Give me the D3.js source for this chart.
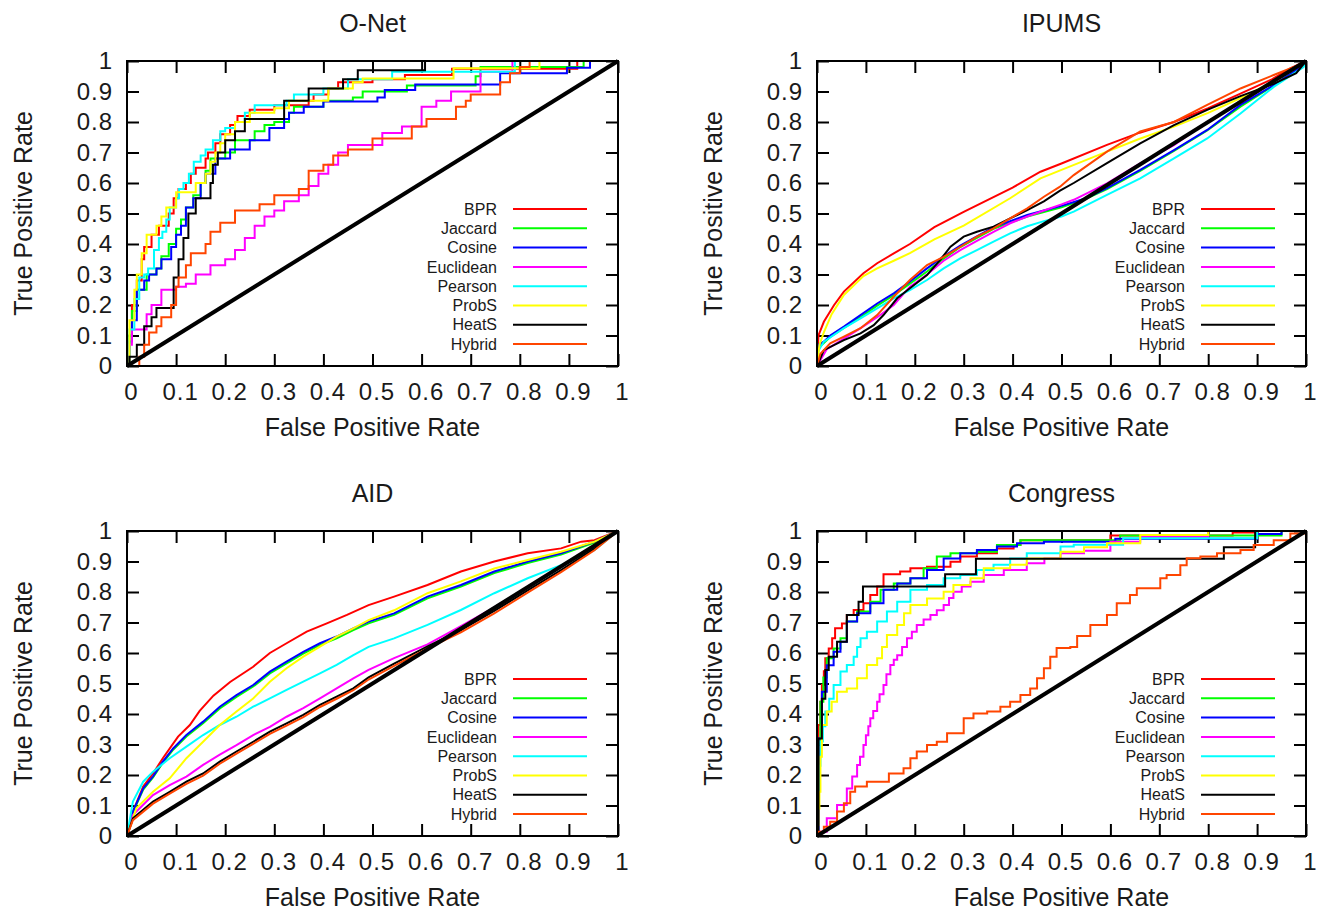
<!DOCTYPE html>
<html>
<head>
<meta charset="utf-8">
<script src="https://d3js.org/d3.v7.min.js"></script>
<style>
body { margin: 0; background: #fff; }
</style>
</head>
<body>
<div id="chart"></div>
<script>
// 1. data
var seriesNames  = ["BPR", "Jaccard", "Cosine", "Euclidean", "Pearson", "ProbS", "HeatS", "Hybrid"];
var seriesColors = ["#ff0000", "#00ff00", "#0000ff", "#ff00ff", "#00ffff", "#ffff00", "#000000", "#ff4500"];
var tickValues = [0, 0.1, 0.2, 0.3, 0.4, 0.5, 0.6, 0.7, 0.8, 0.9, 1];
var tickLabels = ["0", "0.1", "0.2", "0.3", "0.4", "0.5", "0.6", "0.7", "0.8", "0.9", "1"];
var panelTitles = ["O-Net", "IPUMS", "AID", "Congress"];
var xTitle = "False Positive Rate";
var yTitle = "True Positive Rate";

// O-Net  [fpr, tpr]
var onet_BPR = [[0,0],[0.005,0.1],[0.01,0.2],[0.02,0.28],[0.03,0.35],[0.035,0.39],[0.05,0.43],[0.065,0.46],[0.085,0.5],[0.095,0.55],[0.105,0.58],[0.12,0.6],[0.13,0.63],[0.14,0.65],[0.16,0.68],[0.165,0.7],[0.18,0.73],[0.19,0.76],[0.21,0.79],[0.22,0.8],[0.225,0.82],[0.25,0.84],[0.3,0.855],[0.37,0.87],[0.38,0.89],[0.41,0.91],[0.43,0.93],[0.5,0.94],[0.566,0.954],[0.662,0.975],[0.917,1],[1,1]];
var onet_Jaccard = [[0,0],[0.005,0.1],[0.01,0.18],[0.02,0.25],[0.04,0.3],[0.06,0.32],[0.07,0.36],[0.085,0.4],[0.1,0.45],[0.11,0.48],[0.12,0.52],[0.135,0.56],[0.15,0.6],[0.16,0.64],[0.17,0.68],[0.2,0.7],[0.22,0.74],[0.26,0.77],[0.28,0.79],[0.3,0.8],[0.33,0.83],[0.34,0.85],[0.4,0.87],[0.46,0.88],[0.48,0.9],[0.57,0.92],[0.71,0.95],[0.72,0.98],[0.93,1],[1,1]];
var onet_Cosine = [[0,0],[0.005,0.08],[0.01,0.15],[0.02,0.25],[0.035,0.28],[0.045,0.3],[0.06,0.32],[0.07,0.35],[0.09,0.39],[0.1,0.43],[0.11,0.46],[0.12,0.52],[0.135,0.55],[0.15,0.6],[0.16,0.63],[0.18,0.68],[0.21,0.71],[0.25,0.74],[0.29,0.78],[0.32,0.81],[0.33,0.83],[0.36,0.85],[0.4,0.867],[0.51,0.88],[0.525,0.905],[0.587,0.923],[0.76,0.96],[0.896,0.978],[0.943,1],[1,1]];
var onet_Euclidean = [[0,0],[0.005,0.07],[0.01,0.12],[0.04,0.17],[0.05,0.2],[0.07,0.25],[0.1,0.26],[0.12,0.27],[0.14,0.3],[0.17,0.33],[0.2,0.35],[0.22,0.38],[0.24,0.42],[0.26,0.46],[0.28,0.49],[0.3,0.51],[0.32,0.54],[0.35,0.56],[0.37,0.59],[0.39,0.63],[0.41,0.66],[0.43,0.7],[0.45,0.725],[0.52,0.764],[0.56,0.785],[0.6,0.85],[0.63,0.87],[0.66,0.9],[0.72,0.965],[0.785,1],[1,1]];
var onet_Pearson = [[0,0],[0.005,0.12],[0.015,0.22],[0.025,0.29],[0.035,0.3],[0.043,0.32],[0.055,0.38],[0.065,0.42],[0.072,0.44],[0.08,0.48],[0.087,0.52],[0.1,0.55],[0.106,0.58],[0.115,0.6],[0.126,0.63],[0.136,0.67],[0.15,0.69],[0.16,0.71],[0.175,0.74],[0.19,0.77],[0.2,0.78],[0.22,0.8],[0.24,0.83],[0.26,0.855],[0.325,0.87],[0.34,0.89],[0.4,0.91],[0.45,0.94],[0.54,0.965],[0.79,1],[1,1]];
var onet_ProbS = [[0,0],[0.005,0.15],[0.015,0.25],[0.02,0.3],[0.03,0.37],[0.04,0.43],[0.06,0.46],[0.07,0.49],[0.08,0.52],[0.1,0.57],[0.14,0.6],[0.16,0.63],[0.17,0.67],[0.18,0.7],[0.19,0.73],[0.2,0.76],[0.22,0.8],[0.25,0.83],[0.3,0.845],[0.33,0.87],[0.41,0.91],[0.46,0.93],[0.48,0.943],[0.665,0.976],[0.84,1],[1,1]];
var onet_HeatS = [[0,0],[0.005,0.03],[0.02,0.07],[0.035,0.13],[0.05,0.16],[0.06,0.19],[0.095,0.29],[0.105,0.35],[0.115,0.42],[0.125,0.5],[0.14,0.55],[0.17,0.6],[0.175,0.66],[0.185,0.7],[0.2,0.74],[0.22,0.77],[0.24,0.81],[0.32,0.87],[0.37,0.91],[0.44,0.94],[0.47,0.97],[0.607,1],[1,1]];
var onet_Hybrid = [[0,0],[0.02,0],[0.025,0.03],[0.035,0.07],[0.045,0.11],[0.06,0.13],[0.07,0.16],[0.09,0.2],[0.1,0.26],[0.105,0.29],[0.12,0.33],[0.13,0.37],[0.16,0.4],[0.17,0.44],[0.19,0.47],[0.22,0.51],[0.27,0.53],[0.3,0.56],[0.35,0.58],[0.37,0.64],[0.4,0.66],[0.42,0.69],[0.45,0.71],[0.5,0.746],[0.58,0.785],[0.61,0.81],[0.67,0.85],[0.69,0.87],[0.7,0.89],[0.76,0.93],[0.78,0.96],[0.8,0.98],[0.82,1],[1,1]];

// IPUMS
var ipums_BPR = [[0,0],[0.003,0.1],[0.014,0.145],[0.035,0.2],[0.055,0.244],[0.095,0.304],[0.123,0.337],[0.157,0.369],[0.19,0.4],[0.24,0.455],[0.3,0.505],[0.4,0.585],[0.457,0.637],[0.5,0.664],[0.593,0.725],[0.66,0.765],[0.73,0.8],[0.8,0.845],[0.866,0.893],[0.93,0.94],[0.968,0.976],[1,1]];
var ipums_Jaccard = [[0,0],[0.003,0.06],[0.014,0.075],[0.027,0.095],[0.055,0.125],[0.089,0.16],[0.123,0.198],[0.157,0.232],[0.19,0.27],[0.225,0.31],[0.259,0.352],[0.293,0.39],[0.327,0.42],[0.361,0.45],[0.395,0.47],[0.43,0.49],[0.464,0.505],[0.5,0.52],[0.55,0.548],[0.593,0.58],[0.661,0.64],[0.73,0.705],[0.798,0.772],[0.866,0.85],[0.934,0.92],[0.98,0.97],[1,1]];
var ipums_Cosine = [[0,0],[0.003,0.07],[0.014,0.08],[0.027,0.1],[0.055,0.129],[0.089,0.167],[0.123,0.205],[0.157,0.238],[0.19,0.277],[0.225,0.32],[0.259,0.36],[0.293,0.395],[0.327,0.425],[0.361,0.455],[0.395,0.475],[0.43,0.495],[0.464,0.51],[0.5,0.525],[0.55,0.55],[0.593,0.583],[0.661,0.643],[0.73,0.708],[0.798,0.774],[0.866,0.856],[0.934,0.921],[0.98,0.97],[1,1]];
var ipums_Euclidean = [[0,0],[0.02,0.055],[0.055,0.09],[0.09,0.125],[0.123,0.16],[0.157,0.2],[0.19,0.26],[0.225,0.3],[0.259,0.345],[0.293,0.38],[0.327,0.41],[0.361,0.44],[0.395,0.468],[0.43,0.49],[0.464,0.51],[0.5,0.53],[0.525,0.545],[0.593,0.599],[0.661,0.664],[0.73,0.724],[0.798,0.8],[0.866,0.867],[0.934,0.932],[1,1]];
var ipums_Pearson = [[0,0],[0.003,0.05],[0.014,0.08],[0.055,0.124],[0.089,0.156],[0.123,0.189],[0.157,0.222],[0.19,0.249],[0.225,0.282],[0.259,0.32],[0.293,0.353],[0.327,0.38],[0.361,0.408],[0.395,0.435],[0.43,0.458],[0.464,0.475],[0.5,0.49],[0.525,0.506],[0.593,0.561],[0.661,0.615],[0.73,0.681],[0.798,0.746],[0.866,0.828],[0.934,0.915],[0.995,0.98],[1,1]];
var ipums_ProbS = [[0,0],[0.005,0.07],[0.014,0.11],[0.03,0.17],[0.055,0.233],[0.095,0.295],[0.123,0.32],[0.157,0.345],[0.19,0.37],[0.24,0.415],[0.3,0.46],[0.395,0.55],[0.457,0.615],[0.5,0.643],[0.593,0.703],[0.66,0.745],[0.73,0.785],[0.8,0.83],[0.866,0.878],[0.93,0.93],[0.968,0.965],[1,1]];
var ipums_HeatS = [[0,0],[0.014,0.052],[0.055,0.085],[0.089,0.107],[0.116,0.134],[0.136,0.167],[0.164,0.222],[0.19,0.255],[0.225,0.298],[0.252,0.348],[0.273,0.391],[0.3,0.424],[0.327,0.44],[0.361,0.457],[0.395,0.484],[0.43,0.511],[0.464,0.54],[0.497,0.575],[0.525,0.6],[0.593,0.665],[0.661,0.73],[0.73,0.79],[0.798,0.84],[0.866,0.885],[0.934,0.925],[0.98,0.96],[1,1]];
var ipums_Hybrid = [[0,0],[0.007,0.04],[0.027,0.074],[0.055,0.096],[0.089,0.124],[0.123,0.167],[0.157,0.227],[0.19,0.282],[0.225,0.331],[0.259,0.358],[0.293,0.391],[0.327,0.424],[0.361,0.451],[0.395,0.484],[0.43,0.517],[0.464,0.555],[0.497,0.588],[0.525,0.626],[0.593,0.703],[0.661,0.769],[0.73,0.8],[0.798,0.856],[0.866,0.91],[0.934,0.954],[0.995,0.993],[1,1]];

// AID
var aid_BPR = [[0,0],[0.012,0.08],[0.033,0.162],[0.053,0.205],[0.073,0.255],[0.104,0.326],[0.128,0.364],[0.148,0.41],[0.176,0.46],[0.21,0.505],[0.257,0.555],[0.291,0.6],[0.325,0.632],[0.366,0.67],[0.407,0.697],[0.448,0.725],[0.492,0.757],[0.544,0.785],[0.612,0.823],[0.68,0.867],[0.748,0.9],[0.816,0.927],[0.884,0.943],[0.925,0.965],[0.952,0.97],[1,1]];
var aid_Jaccard = [[0,0],[0.012,0.078],[0.033,0.152],[0.053,0.192],[0.073,0.24],[0.094,0.283],[0.121,0.326],[0.155,0.37],[0.189,0.418],[0.223,0.456],[0.257,0.49],[0.291,0.533],[0.325,0.566],[0.359,0.598],[0.393,0.626],[0.427,0.648],[0.461,0.675],[0.492,0.697],[0.544,0.725],[0.612,0.779],[0.68,0.818],[0.748,0.862],[0.816,0.895],[0.884,0.923],[0.952,0.962],[1,1]];
var aid_Cosine = [[0,0],[0.012,0.08],[0.033,0.156],[0.053,0.195],[0.073,0.244],[0.094,0.287],[0.121,0.331],[0.155,0.375],[0.189,0.424],[0.223,0.462],[0.257,0.495],[0.291,0.539],[0.325,0.572],[0.359,0.604],[0.393,0.632],[0.427,0.654],[0.461,0.681],[0.492,0.703],[0.544,0.73],[0.612,0.785],[0.68,0.823],[0.748,0.867],[0.816,0.9],[0.884,0.927],[0.952,0.965],[1,1]];
var aid_Euclidean = [[0,0],[0.012,0.069],[0.053,0.134],[0.087,0.167],[0.121,0.195],[0.155,0.233],[0.189,0.267],[0.223,0.298],[0.257,0.331],[0.291,0.358],[0.325,0.391],[0.359,0.419],[0.393,0.451],[0.427,0.484],[0.461,0.517],[0.492,0.545],[0.544,0.583],[0.612,0.628],[0.68,0.688],[0.74,0.742],[0.8,0.8],[0.9,0.9],[1,1]];
var aid_Pearson = [[0,0],[0.012,0.113],[0.033,0.178],[0.053,0.211],[0.087,0.255],[0.121,0.293],[0.155,0.331],[0.189,0.364],[0.223,0.391],[0.257,0.424],[0.291,0.451],[0.325,0.479],[0.359,0.506],[0.393,0.533],[0.427,0.561],[0.461,0.593],[0.492,0.62],[0.544,0.648],[0.612,0.692],[0.68,0.741],[0.748,0.796],[0.816,0.845],[0.884,0.888],[0.952,0.937],[1,1]];
var aid_ProbS = [[0,0],[0.019,0.091],[0.053,0.145],[0.087,0.189],[0.121,0.255],[0.155,0.309],[0.189,0.364],[0.223,0.408],[0.257,0.451],[0.291,0.506],[0.325,0.55],[0.359,0.588],[0.393,0.621],[0.427,0.654],[0.461,0.681],[0.492,0.708],[0.544,0.74],[0.612,0.796],[0.68,0.835],[0.748,0.877],[0.816,0.905],[0.884,0.932],[0.952,0.965],[1,1]];
var aid_HeatS = [[0,0],[0.012,0.058],[0.053,0.113],[0.087,0.145],[0.121,0.178],[0.155,0.205],[0.189,0.244],[0.223,0.277],[0.257,0.309],[0.291,0.342],[0.325,0.369],[0.359,0.397],[0.393,0.43],[0.427,0.457],[0.461,0.484],[0.492,0.52],[0.544,0.565],[0.612,0.622],[0.68,0.675],[0.748,0.738],[0.816,0.805],[0.884,0.872],[0.952,0.942],[1,1]];
var aid_Hybrid = [[0,0],[0.012,0.052],[0.053,0.106],[0.087,0.139],[0.121,0.171],[0.155,0.198],[0.189,0.237],[0.223,0.27],[0.257,0.302],[0.291,0.335],[0.325,0.362],[0.359,0.39],[0.393,0.423],[0.427,0.45],[0.461,0.478],[0.492,0.513],[0.544,0.558],[0.612,0.615],[0.68,0.668],[0.748,0.73],[0.816,0.798],[0.884,0.865],[0.952,0.937],[1,1]];

// Congress
var cong_BPR = [[0,0],[0.001,0.2],[0.003,0.364],[0.007,0.44],[0.01,0.495],[0.014,0.54],[0.017,0.583],[0.024,0.615],[0.031,0.648],[0.037,0.681],[0.051,0.697],[0.061,0.725],[0.075,0.741],[0.095,0.763],[0.109,0.79],[0.123,0.818],[0.136,0.858],[0.17,0.867],[0.191,0.878],[0.225,0.883],[0.273,0.899],[0.293,0.916],[0.327,0.927],[0.368,0.943],[0.402,0.954],[0.416,0.97],[0.6,0.985],[0.85,0.995],[0.9,1],[1,1]];
var cong_Jaccard = [[0,0],[0.002,0.3],[0.007,0.44],[0.013,0.52],[0.02,0.583],[0.034,0.615],[0.048,0.648],[0.061,0.703],[0.082,0.736],[0.109,0.768],[0.13,0.807],[0.157,0.828],[0.191,0.845],[0.218,0.878],[0.245,0.916],[0.273,0.927],[0.327,0.932],[0.368,0.954],[0.416,0.97],[0.62,0.985],[0.95,1],[1,1]];
var cong_Cosine = [[0,0],[0.003,0.32],[0.01,0.473],[0.02,0.56],[0.034,0.604],[0.048,0.637],[0.061,0.703],[0.082,0.73],[0.109,0.763],[0.136,0.807],[0.164,0.828],[0.191,0.845],[0.225,0.872],[0.259,0.91],[0.293,0.927],[0.327,0.938],[0.368,0.949],[0.409,0.96],[0.464,0.965],[0.61,0.975],[0.9,0.99],[0.95,1],[1,1]];
var cong_Euclidean = [[0,0],[0.003,0.014],[0.02,0.058],[0.041,0.102],[0.061,0.156],[0.072,0.195],[0.082,0.233],[0.088,0.26],[0.095,0.298],[0.1,0.33],[0.105,0.36],[0.109,0.386],[0.115,0.41],[0.123,0.44],[0.128,0.465],[0.136,0.495],[0.142,0.53],[0.15,0.561],[0.157,0.578],[0.164,0.593],[0.174,0.62],[0.184,0.648],[0.194,0.67],[0.204,0.692],[0.218,0.71],[0.232,0.725],[0.245,0.74],[0.259,0.757],[0.27,0.78],[0.279,0.801],[0.296,0.818],[0.314,0.834],[0.341,0.856],[0.382,0.872],[0.429,0.894],[0.465,0.91],[0.498,0.927],[0.546,0.935],[0.6,0.965],[0.661,0.98],[0.8,1],[1,1]];
var cong_Pearson = [[0,0],[0.001,0.145],[0.004,0.23],[0.007,0.31],[0.012,0.36],[0.017,0.408],[0.025,0.45],[0.034,0.495],[0.048,0.539],[0.061,0.561],[0.075,0.588],[0.082,0.62],[0.089,0.648],[0.102,0.67],[0.123,0.703],[0.143,0.736],[0.164,0.768],[0.191,0.807],[0.225,0.823],[0.259,0.845],[0.293,0.856],[0.327,0.872],[0.361,0.889],[0.395,0.91],[0.429,0.927],[0.498,0.949],[0.525,0.955],[0.626,0.976],[0.9,1],[1,1]];
var cong_ProbS = [[0,0],[0.001,0.036],[0.003,0.09],[0.005,0.145],[0.007,0.26],[0.01,0.364],[0.02,0.408],[0.03,0.44],[0.041,0.473],[0.061,0.484],[0.082,0.517],[0.102,0.561],[0.123,0.583],[0.133,0.62],[0.143,0.659],[0.164,0.692],[0.178,0.73],[0.191,0.757],[0.225,0.779],[0.259,0.801],[0.279,0.823],[0.314,0.845],[0.341,0.878],[0.395,0.889],[0.429,0.91],[0.498,0.932],[0.546,0.947],[0.593,0.96],[0.661,0.987],[0.8,1],[1,1]];
var cong_HeatS = [[0,0],[0.003,0.32],[0.01,0.45],[0.017,0.544],[0.024,0.588],[0.041,0.637],[0.061,0.725],[0.085,0.768],[0.094,0.818],[0.262,0.858],[0.325,0.909],[0.832,0.947],[0.896,1],[1,1]];
var cong_Hybrid = [[0,0],[0.003,0.014],[0.014,0.03],[0.027,0.047],[0.041,0.08],[0.055,0.107],[0.068,0.145],[0.078,0.162],[0.102,0.178],[0.147,0.205],[0.177,0.222],[0.191,0.255],[0.204,0.277],[0.225,0.298],[0.245,0.309],[0.266,0.337],[0.3,0.386],[0.32,0.402],[0.348,0.408],[0.375,0.424],[0.395,0.44],[0.416,0.462],[0.436,0.484],[0.45,0.517],[0.464,0.55],[0.477,0.588],[0.49,0.616],[0.518,0.62],[0.532,0.656],[0.559,0.692],[0.593,0.725],[0.613,0.763],[0.64,0.79],[0.654,0.812],[0.702,0.845],[0.715,0.856],[0.743,0.888],[0.756,0.911],[0.784,0.916],[0.818,0.927],[0.866,0.938],[0.893,0.954],[0.934,0.97],[0.968,0.992],[1,1]];

var panels = [
  { title: panelTitles[0], step: true,  series: [onet_BPR, onet_Jaccard, onet_Cosine, onet_Euclidean, onet_Pearson, onet_ProbS, onet_HeatS, onet_Hybrid] },
  { title: panelTitles[1], step: false, series: [ipums_BPR, ipums_Jaccard, ipums_Cosine, ipums_Euclidean, ipums_Pearson, ipums_ProbS, ipums_HeatS, ipums_Hybrid] },
  { title: panelTitles[2], step: false, series: [aid_BPR, aid_Jaccard, aid_Cosine, aid_Euclidean, aid_Pearson, aid_ProbS, aid_HeatS, aid_Hybrid] },
  { title: panelTitles[3], step: true,  series: [cong_BPR, cong_Jaccard, cong_Cosine, cong_Euclidean, cong_Pearson, cong_ProbS, cong_HeatS, cong_Hybrid] }
];

// 2. layout
var width = 1321, height = 912;
var font = "'Liberation Sans', Arial, Helvetica, sans-serif";
var textColor = "#1a1a1a";
var boxes = [
  { x0: 127, x1: 618,  y0: 61,  y1: 366 },
  { x0: 817, x1: 1306, y0: 61,  y1: 366 },
  { x0: 127, x1: 618,  y0: 531, y1: 836 },
  { x0: 817, x1: 1306, y0: 531, y1: 836 }
];

var svg = d3.select("#chart").append("svg")
  .attr("width", width)
  .attr("height", height)
  .style("background", "#fff");

panels.forEach(function(p, i) { drawPanel(p, boxes[i]); });

// 3. one panel
function drawPanel(p, b) {
  var x = d3.scaleLinear().domain([0, 1]).range([b.x0, b.x1]);
  var y = d3.scaleLinear().domain([0, 1]).range([b.y1, b.y0]);
  var g = svg.append("g");
  var fmt = function(d, i) { return tickLabels[i]; };
  var blank = function() { return ""; };

  var axes = [
    { a: d3.axisBottom(x).tickFormat(fmt).tickPadding(17), t: "translate(0," + b.y1 + ")", dx: 4 },
    { a: d3.axisLeft(y).tickFormat(fmt).tickPadding(14),   t: "translate(" + b.x0 + ",0)", dx: 0 },
    { a: d3.axisTop(x).tickFormat(blank),                  t: "translate(0," + b.y0 + ")", dx: 0 },
    { a: d3.axisRight(y).tickFormat(blank),                t: "translate(" + b.x1 + ",0)", dx: 0 }
  ];
  axes.forEach(function(ax) {
    var ag = g.append("g")
      .attr("transform", ax.t)
      .call(ax.a.tickValues(tickValues).tickSize(-12).tickSizeOuter(0));
    ag.select(".domain").remove();
    ag.selectAll("line").attr("stroke", "#000").attr("stroke-width", 2);
    ag.selectAll("text")
      .attr("fill", textColor)
      .attr("dx", ax.dx)
      .style("font-family", font)
      .style("font-size", "24px")
      .style("letter-spacing", "1px");
  });

  // curves
  var line = d3.line()
    .x(function(d) { return x(d[0]); })
    .y(function(d) { return y(d[1]); })
    .curve(p.step ? d3.curveStepAfter : d3.curveLinear);

  g.selectAll(".curve")
    .data(p.series)
    .enter().append("path")
    .attr("class", "curve")
    .attr("d", line)
    .attr("fill", "none")
    .attr("stroke", function(d, i) { return seriesColors[i]; })
    .attr("stroke-width", 2);

  // random-guess diagonal
  g.append("path")
    .attr("d", line.curve(d3.curveLinear)([[0, 0], [1, 1]]))
    .attr("stroke", "#000")
    .attr("stroke-width", 4)
    .attr("fill", "none");

  // frame
  g.append("rect")
    .attr("x", b.x0).attr("y", b.y0)
    .attr("width", b.x1 - b.x0).attr("height", b.y1 - b.y0)
    .attr("fill", "none")
    .attr("stroke", "#000")
    .attr("stroke-width", 2);

  // legend
  var leg = g.selectAll(".leg")
    .data(seriesNames)
    .enter().append("g")
    .attr("class", "leg")
    .attr("transform", function(d, i) { return "translate(0," + (b.y0 + 148 + i * 19.3) + ")"; });
  leg.append("text")
    .attr("x", b.x1 - 121)
    .attr("dy", "0.35em")
    .attr("text-anchor", "end")
    .attr("fill", textColor)
    .style("font-family", font)
    .style("font-size", "16px")
    .text(function(d) { return d; });
  leg.append("line")
    .attr("x1", b.x1 - 105).attr("x2", b.x1 - 31)
    .attr("stroke", function(d, i) { return seriesColors[i]; })
    .attr("stroke-width", 2);

  // titles
  var cx = (b.x0 + b.x1) / 2;
  g.append("text")
    .attr("x", cx).attr("y", b.y0 - 29)
    .attr("text-anchor", "middle")
    .attr("fill", textColor)
    .style("font-family", font).style("font-size", "25px")
    .text(p.title);
  g.append("text")
    .attr("x", cx).attr("y", b.y1 + 70)
    .attr("text-anchor", "middle")
    .attr("fill", textColor)
    .style("font-family", font).style("font-size", "25px")
    .text(xTitle);
  g.append("text")
    .attr("transform", "translate(" + (b.x0 - 95) + "," + ((b.y0 + b.y1) / 2) + ") rotate(-90)")
    .attr("text-anchor", "middle")
    .attr("fill", textColor)
    .style("font-family", font).style("font-size", "25px")
    .text(yTitle);
}
</script>
</body>
</html>
